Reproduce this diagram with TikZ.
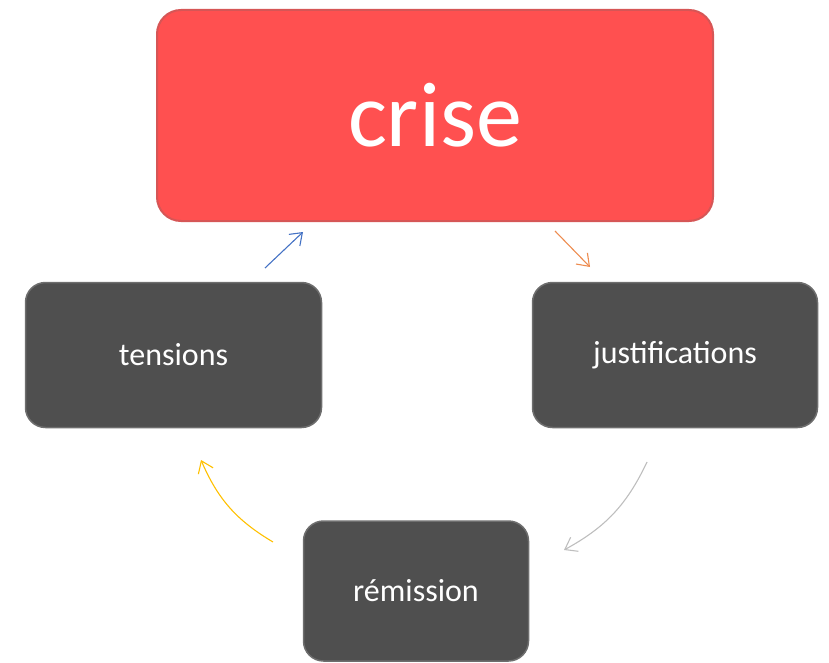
\documentclass[tikz,border=0pt]{standalone}
\usepackage{fontspec}
\setmainfont{Carlito}
\usetikzlibrary{arrows.meta}
\definecolor{crisered}{RGB}{255,80,80}
\definecolor{criseedge}{RGB}{214,86,86}
\definecolor{boxgray}{RGB}{79,79,79}
\definecolor{boxedge}{RGB}{110,110,110}
\definecolor{arrblue}{RGB}{68,114,196}
\definecolor{arrorange}{RGB}{237,140,80}
\definecolor{arrgray}{RGB}{190,190,190}
\definecolor{arryellow}{RGB}{255,192,0}
\tikzset{
  bigbox/.style={draw=criseedge, line width=2pt, fill=crisered, rounded corners=24pt,
    minimum width=556pt, minimum height=211pt, text=white, font=\fontsize{92}{92}\selectfont, inner sep=0pt},
  graybox/.style={draw=boxedge, line width=1.5pt, fill=boxgray, rounded corners=20pt,
    text=white, font=\fontsize{32}{32}\selectfont, inner sep=0pt},
  cyc/.style={line width=1.1pt, -{Straight Barb[length=11pt,width=16pt,line width=1.1pt]}}
}
\begin{document}
\begin{tikzpicture}[x=1pt,y=-1pt]
\useasboundingbox (0,0) rectangle (829,663);
\node[bigbox] (crise) at (435,115.5) {crise};
\node[graybox, minimum width=296pt, minimum height=145pt] (tensions) at (173.5,355) {tensions};
\node[graybox, minimum width=285pt, minimum height=145pt] (justif) at (675,355) {justifications};
\node[graybox, minimum width=225pt, minimum height=140pt] (remission) at (416,591) {rémission};
\coordinate (a1) at (265,268);
\coordinate (a2) at (303,232);
\coordinate (b1) at (555,231);
\coordinate (b2) at (590,267);
\coordinate (c1) at (647,462);
\coordinate (c2) at (564,550);
\coordinate (d1) at (273,542);
\coordinate (d2) at (201,460);
\draw[cyc, arrblue] (a1) -- (a2);
\draw[cyc, arrorange] (b1) -- (b2);
\draw[cyc, arrgray] (c1) to[bend left=18] (c2);
\draw[cyc, arryellow] (d1) to[bend left=18] (d2);
\end{tikzpicture}
\end{document}
